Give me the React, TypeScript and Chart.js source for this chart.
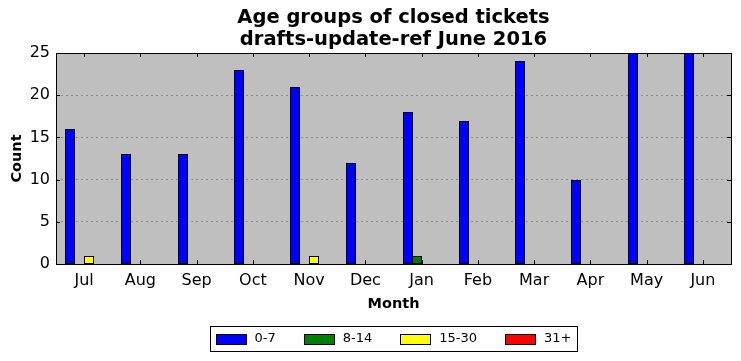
import React, { useEffect, useRef } from "react";
import { Chart, registerables } from "chart.js";

Chart.register(...registerables);

const months = ["Jul", "Aug", "Sep", "Oct", "Nov", "Dec", "Jan", "Feb", "Mar", "Apr", "May", "Jun"];
const seriesLabels = ["0-7", "8-14", "15-30", "31+"];
const seriesColors = ["#0000ff", "#008000", "#ffff00", "#ff0000"];
const age0to7 = [16, 13, 13, 23, 21, 12, 18, 17, 24, 10, 25, 25];
const age8to14 = [0, 0, 0, 0, 0, 0, 1, 0, 0, 0, 0, 0];
const age15to30 = [1, 0, 0, 0, 1, 0, 0, 0, 0, 0, 0, 0];
const age31plus = [0, 0, 0, 0, 0, 0, 0, 0, 0, 0, 0, 0];
const yTicks = [0, 5, 10, 15, 20, 25];
const titleLines = ["Age groups of closed tickets", "drafts-update-ref June 2016"];

const FONT = "DejaVu Sans";

const framePlugin = {
  id: "mplFrame",
  beforeDraw(chart: any) {
    const { ctx, chartArea: a } = chart;
    ctx.save();
    ctx.fillStyle = "#bfbfbf";
    ctx.fillRect(a.left, a.top, a.right - a.left, a.bottom - a.top);
    ctx.restore();
  },
  beforeDatasetsDraw(chart: any) {
    // snap library-computed bar geometry to whole pixels for crisp edges
    chart.data.datasets.forEach((_d: any, i: number) => {
      const meta = chart.getDatasetMeta(i);
      meta.data.forEach((el: any) => {
        const w = Math.round(el.width);
        const left = Math.round(el.x - el.width / 2);
        el.width = w;
        el.x = left + w / 2;
        el.y = Math.round(el.y);
        el.base = Math.round(el.base);
        el.height = el.base - el.y;
      });
    });
  },
  afterDatasetsDraw(chart: any) {
    const { ctx, chartArea: a, scales } = chart;
    ctx.save();
    ctx.strokeStyle = "#000";
    ctx.lineWidth = 1;
    const x = scales.x;
    const y = scales.y;
    const tl = 4;
    ctx.beginPath();
    x.ticks.forEach((_t: any, i: number) => {
      const px = Math.round(x.getPixelForTick(i)) + 0.5;
      ctx.moveTo(px, a.bottom);
      ctx.lineTo(px, a.bottom - tl);
      ctx.moveTo(px, a.top);
      ctx.lineTo(px, a.top + tl);
    });
    y.ticks.forEach((t: any) => {
      const py = Math.round(y.getPixelForValue(t.value)) + 0.5;
      ctx.moveTo(a.left, py);
      ctx.lineTo(a.left + tl, py);
      ctx.moveTo(a.right, py);
      ctx.lineTo(a.right - tl, py);
    });
    ctx.stroke();
    ctx.strokeRect(Math.round(a.left) + 0.5, Math.round(a.top) + 0.5, Math.round(a.right - a.left), Math.round(a.bottom - a.top));
    ctx.restore();
  },
  afterDraw(chart: any) {
    const { ctx, chartArea: a } = chart;
    const cx = (a.left + a.right) / 2;
    ctx.save();
    // title, centred over the axes like matplotlib
    ctx.fillStyle = "#000";
    ctx.font = `bold 19.5px "${FONT}"`;
    ctx.textAlign = "center";
    ctx.textBaseline = "alphabetic";
    titleLines.forEach((t, i) => ctx.fillText(t, cx, 23 + i * 22));
    ctx.textAlign = "left";

    ctx.font = `13px "${FONT}"`;
    ctx.textBaseline = "middle";
    const sw = 30, sh = 10, gapText = 9, gapItem = 28, padL = 5, padR = 6;
    const widths = seriesLabels.map((l) => sw + gapText + ctx.measureText(l).width);
    const total = widths.reduce((s, w) => s + w, 0) + gapItem * (seriesLabels.length - 1);
    const boxW = total + padL + padR;
    const bx = Math.round(cx - boxW / 2) + 0.5;
    const by = 326.5;
    const bh = 25;
    ctx.fillStyle = "#fff";
    ctx.fillRect(bx, by, boxW, bh);
    ctx.strokeStyle = "#000";
    ctx.lineWidth = 1;
    ctx.strokeRect(bx, by, Math.round(boxW), bh);
    let xx = bx + padL;
    const cy = by + bh / 2;
    seriesLabels.forEach((l, i) => {
      ctx.fillStyle = seriesColors[i];
      const sx = Math.round(xx) + 0.5;
      ctx.fillRect(sx, Math.round(cy - sh / 2) + 0.5, sw, sh);
      ctx.strokeRect(sx, Math.round(cy - sh / 2) + 0.5, sw, sh);
      ctx.fillStyle = "#000";
      ctx.fillText(l, xx + sw + gapText, cy);
      xx += widths[i] + gapItem;
    });
    ctx.restore();
  },
};

export default function App() {
  const ref = useRef<HTMLCanvasElement | null>(null);
  useEffect(() => {
    document.body.style.margin = "0";
    const data = [age0to7, age8to14, age15to30, age31plus];
    const chart = new Chart(ref.current as HTMLCanvasElement, {
      type: "bar",
      data: {
        labels: months,
        datasets: seriesLabels.map((l, i) => ({
          label: l,
          data: data[i],
          backgroundColor: seriesColors[i],
          borderColor: "#000",
          borderWidth: 1,
          borderSkipped: false,
          categoryPercentage: 0.68,
          barPercentage: 1,
        })),
      },
      options: {
        animation: false,
        responsive: false,
        maintainAspectRatio: false,
        layout: { padding: { left: 0, right: 10, top: 53, bottom: 48 } },
        plugins: {
          legend: { display: false },
          tooltip: { enabled: false },
          title: { display: false },
        },
        scales: {
          x: {
            afterFit: (s: any) => {
              s.height = 49;
            },
            grid: { display: false, drawTicks: false },
            border: { display: false },
            ticks: { color: "#000", font: { family: FONT, size: 16 }, padding: 7, maxRotation: 0 },
            title: {
              display: true,
              text: "Month",
              color: "#000",
              font: { family: FONT, size: 14.5, weight: "bold" },
              padding: { top: 0, bottom: 0 },
            },
          },
          y: {
            min: 0,
            max: 25,
            afterFit: (s: any) => {
              s.width = 56;
            },
            afterBuildTicks: (s: any) => {
              s.ticks = yTicks.map((v) => ({ value: v }));
            },
            grid: {
              drawTicks: false,
              color: (c: any) => (c.tick && (c.tick.value === 0 || c.tick.value === 25) ? "rgba(0,0,0,0)" : "#8a8a8a"),
              lineWidth: 1,
            },
            border: { display: false, dash: [2, 3] },
            ticks: { color: "#000", font: { family: FONT, size: 16 }, padding: 6 },
            title: {
              display: true,
              text: "Count",
              color: "#000",
              font: { family: FONT, size: 14.5, weight: "bold" },
              padding: { top: 9, bottom: 0 },
            },
          },
        },
      } as any,
      plugins: [framePlugin],
    });
    return () => chart.destroy();
  }, []);
  return <canvas ref={ref} width={741} height={361} style={{ display: "block" }} />;
}
